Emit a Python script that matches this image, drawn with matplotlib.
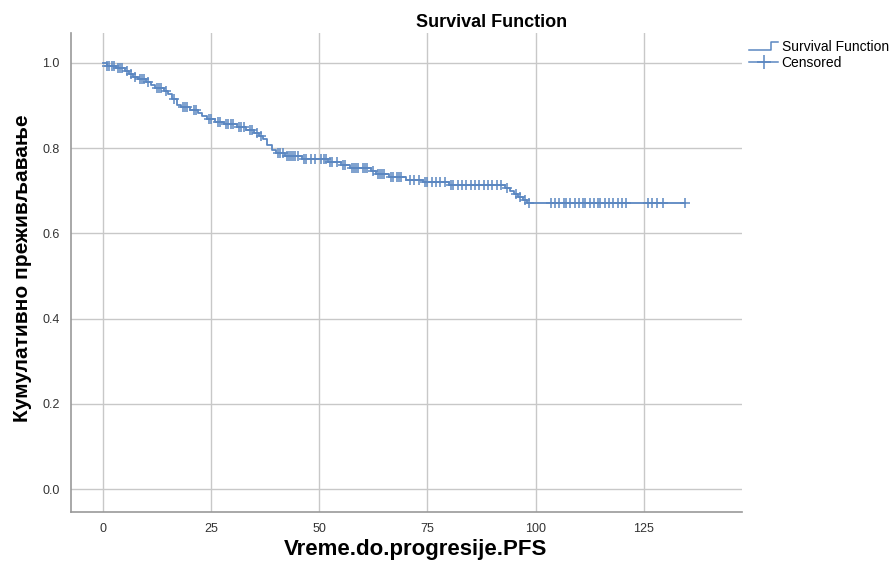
import numpy as np
import matplotlib.pyplot as plt
from matplotlib.lines import Line2D
from matplotlib.legend_handler import HandlerBase

plt.rcParams['font.family'] = ['Liberation Sans', 'DejaVu Sans']

# event times and survival after each event
vreme = [0, 1, 3, 5, 6, 7, 8, 10, 11, 12, 14, 15, 16, 17, 18, 20, 22, 23, 24, 26,
         28, 31, 33, 35, 36, 37, 38, 39, 40, 42, 46, 52, 55, 57, 62, 63, 66, 70,
         74, 80, 93, 94, 95, 96, 97, 98]
prezivljavanje = [1.0, 0.993, 0.987, 0.980, 0.974, 0.967, 0.961, 0.954, 0.948, 0.941,
                  0.935, 0.928, 0.915, 0.902, 0.896, 0.889, 0.882, 0.876, 0.869, 0.862,
                  0.856, 0.849, 0.842, 0.835, 0.828, 0.822, 0.808, 0.795, 0.788, 0.781,
                  0.775, 0.768, 0.761, 0.754, 0.747, 0.740, 0.733, 0.726, 0.720, 0.713,
                  0.706, 0.699, 0.692, 0.685, 0.678, 0.671]

# censored times
cenzurisani = [1, 1.5, 2, 2.5, 3.5, 4, 4.5, 5.5, 6.5, 7.5, 8.5, 9, 9.5, 10.5, 12.5, 13,
               13.5, 14.5, 16.5, 18.5, 19, 19.5, 21, 21.5, 24.5, 25, 26.5, 27, 28.5, 29,
               29.5, 30, 31.5, 32, 32.5, 34, 34.5, 35.5, 36.5, 40.5, 41, 41.5, 42.5, 43,
               43.5, 44, 44.5, 45, 46.5, 47, 48, 49, 50.5, 51, 51.5, 52.5, 53, 54, 55.5,
               56, 57.5, 58, 58.5, 59, 60, 60.5, 61, 62.5, 63.5, 64, 64.5, 65, 66.5, 67,
               68, 68.5, 69, 71, 72, 73, 74.5, 75, 76, 77, 78, 79, 80.5, 81, 82, 83, 84,
               85, 86, 87, 88, 89, 90, 91, 92, 93.5, 95.5, 96.5, 97.5, 98.5, 103.5,
               104.5, 105.5, 106.5, 107, 108, 109, 110, 111, 111.5, 112.5, 113.5, 114.5,
               115, 116, 117, 118, 119, 120, 121, 126, 127, 128, 129.5, 134.5]

plava = '#5b87c1'

# curve extends to last censored time
x_step = vreme + [max(cenzurisani)]
y_step = prezivljavanje + [prezivljavanje[-1]]
idx = np.searchsorted(vreme, cenzurisani, side='right') - 1
y_cens = np.array(prezivljavanje)[idx]

fig = plt.figure(figsize=(8.95, 5.71), dpi=100)
ax = fig.add_axes([0.0793, 0.1033, 0.7497, 0.8389])

ax.step(x_step, y_step, where='post', color=plava, lw=1.3)
ax.plot(cenzurisani, y_cens, ls='none', marker='+', ms=7.5, mew=1.1, color=plava)

ax.set_xlim(-7.4, 147.7)
ax.set_ylim(-0.054, 1.07)
ax.set_xticks([0, 25, 50, 75, 100, 125])
ax.set_yticks([0.0, 0.2, 0.4, 0.6, 0.8, 1.0])
ax.set_yticklabels(['0.0', '0.2', '0.4', '0.6', '0.8', '1.0'])
ax.grid(True, color='#c8c8c8', lw=1)
ax.set_axisbelow(True)
ax.tick_params(length=0, labelsize=9, colors='#333333', pad=8)
for s in ['top', 'right']:
    ax.spines[s].set_visible(False)
for s in ['left', 'bottom']:
    ax.spines[s].set_color('#999999')
    ax.spines[s].set_linewidth(1.2)

ax.set_ylabel('Кумулативно преживљавање', fontsize=15, fontweight='bold')
ax.yaxis.set_label_coords(-0.058, 0.51)
fig.text(0.464, 0.038, 'Vreme.do.progresije.PFS', ha='center', va='center',
         fontsize=16, fontweight='bold')
fig.text(0.549, 0.96, 'Survival Function', ha='center', va='center',
         fontsize=13, fontweight='bold')


class StepHandler(HandlerBase):
    def create_artists(self, legend, orig_handle, xdescent, ydescent,
                       width, height, fontsize, trans):
        x0 = -xdescent
        y0 = -ydescent
        xs = [x0, x0 + width * 0.75, x0 + width * 0.75, x0 + width]
        ys = [y0 + height * 0.15, y0 + height * 0.15, y0 + height * 0.95, y0 + height * 0.95]
        ln = Line2D(xs, ys, color=orig_handle.get_color(), lw=1.1, transform=trans)
        return [ln]


h1 = Line2D([], [], color=plava)
h2 = Line2D([], [], color=plava, marker='+', ms=10, mew=1.1, lw=1.1)
fig.legend([h1, h2], ['Survival Function', 'Censored'],
           handler_map={h1: StepHandler()},
           loc='upper left', bbox_to_anchor=(0.826, 0.947), frameon=False,
           fontsize=10, handlelength=2.1, handletextpad=0.25, labelspacing=0.12,
           borderpad=0.2)

fig.savefig('out.png', dpi=100)
